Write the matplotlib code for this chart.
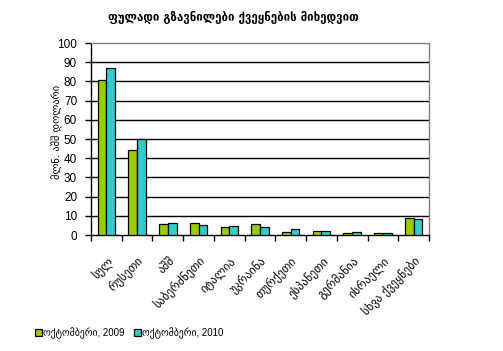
import numpy as np
import matplotlib.pyplot as plt

# === Dati ===
paesi = ["სულ", "რუსეთი", "აშშ", "საბერძნეთი", "იტალია", "უკრაინა",
         "თურქეთი", "ესპანეთი", "გერმანია", "ისრაელი", "სხვა ქვეყნები"]
okt_2009 = [80.7, 44.2, 5.6, 6.1, 4.0, 5.6, 1.4, 1.9, 0.9, 0.9, 8.7]
okt_2010 = [87.0, 49.9, 6.1, 5.0, 4.5, 4.0, 3.0, 1.9, 1.4, 0.9, 8.2]
serie = ["ოქტომბერი, 2009", "ოქტომბერი, 2010"]
titolo = "ფულადი გზავნილები ქვეყნების მიხედვით"
asse_y = "მლნ. აშშ დოლარი"

FONT = ["Liberation Sans", "DejaVu Sans"]
plt.rcParams["font.family"] = FONT

fig = plt.figure(figsize=(5.03, 3.51), dpi=100)
W, H = 503, 351
ax = fig.add_axes([91 / W, 1 - 235 / H, (429 - 91) / W, (235 - 43) / H])

x = np.arange(len(paesi))
w = 0.285
ax.bar(x - w / 2, okt_2009, w, color="#99CC00", edgecolor="black", linewidth=0.9, zorder=3, label=serie[0])
ax.bar(x + w / 2, okt_2010, w, color="#33CCCC", edgecolor="black", linewidth=0.9, zorder=3, label=serie[1])

ax.set_xlim(-0.5, len(paesi) - 0.5)
ax.set_ylim(0, 100)
ax.set_yticks(np.arange(0, 101, 10))
for yv in range(10, 100, 10):
    ax.axhline(yv, color="black", linewidth=1, zorder=1)

ax.spines["top"].set_color("#808080")
ax.spines["right"].set_color("#808080")
ax.spines["left"].set_color("black")
ax.spines["bottom"].set_color("black")
for s in ax.spines.values():
    s.set_linewidth(1)

ax.tick_params(axis="y", direction="out", length=4, width=1, labelsize=8.5, pad=6)
ax.set_xticks(np.arange(-0.5, len(paesi), 1))
ax.set_xticklabels([])
ax.tick_params(axis="x", direction="out", length=4, width=1)
ax.set_xticks(x, minor=True)
ax.set_xticklabels(paesi, minor=True, rotation=45, ha="right", va="top",
                   rotation_mode="anchor", fontsize=8.5, family=["DejaVu Sans"])
ax.tick_params(axis="x", which="minor", length=0, pad=14)

# etichetta asse y posizionata a mano
fig.text(57 / W, 1 - 132 / H, asse_y, rotation=90, ha="center", va="center",
         fontsize=7.5, family=["DejaVu Sans"])

fig.text(233 / W, 1 - 17 / H, titolo, ha="center", va="center", fontsize=8.3,
         fontweight="bold", family=["DejaVu Sans"])

leg = fig.legend(loc="center left", bbox_to_anchor=(31 / W, 1 - 333 / H), ncol=2,
                 frameon=False, fontsize=7, handlelength=0.7, handleheight=0.7,
                 handletextpad=0.1, columnspacing=1.0, borderaxespad=0)

fig.savefig("out.png", dpi=100)
